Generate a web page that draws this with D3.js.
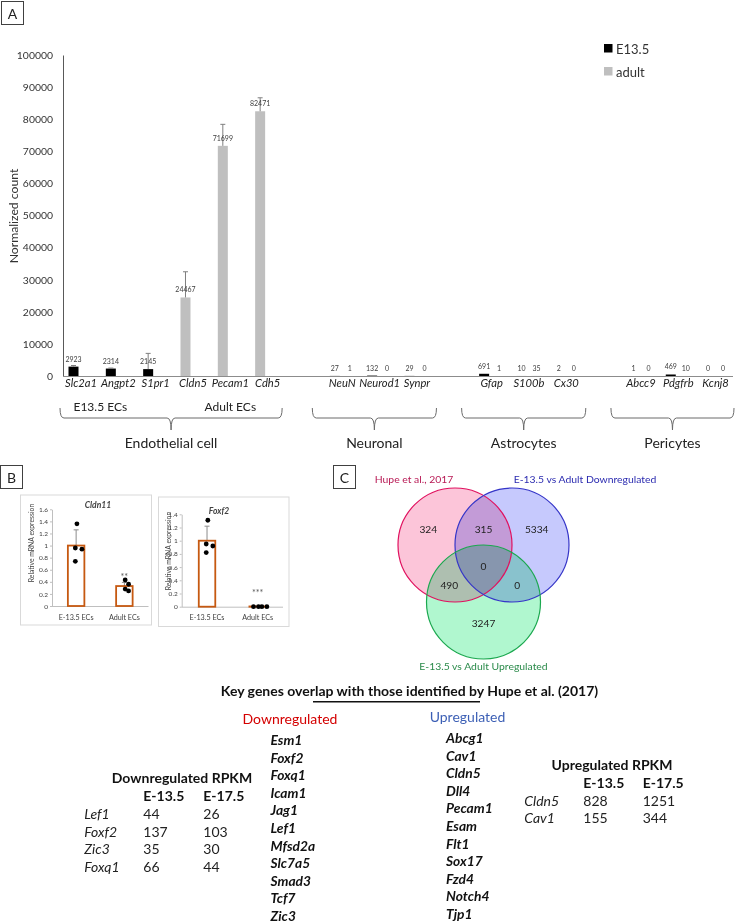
<!DOCTYPE html>
<html><head><meta charset="utf-8">
<script src="https://cdn.jsdelivr.net/npm/d3@7"></script>
<style>
body{margin:0;background:#fff}
svg{display:block}
text{font-family:Lato,"Open Sans",sans-serif}
</style>
</head><body>
<svg id="c" width="735" height="923"></svg>
<script>
// ---------------- DATA ----------------
// Panel A
const genes = ["Slc2a1","Angpt2","S1pr1","Cldn5","Pecam1","Cdh5","NeuN","Neurod1","Synpr","Gfap","S100b","Cx30","Abcc9","Pdgfrb","Kcnj8"];
const cellTypes = ["Endothelial cell","Endothelial cell","Endothelial cell","Endothelial cell","Endothelial cell","Endothelial cell",
  "Neuronal","Neuronal","Neuronal","Astrocytes","Astrocytes","Astrocytes","Pericytes","Pericytes","Pericytes"];
const ecSubTypes = ["E13.5 ECs","E13.5 ECs","E13.5 ECs","Adult ECs","Adult ECs","Adult ECs",null,null,null,null,null,null,null,null,null];
const seriesNames = ["E13.5","adult"];
const e135Counts = [2923,2314,2145,null,null,null,27,132,29,691,10,2,1,469,0];
const adultCounts = [null,null,null,24467,71699,82471,1,0,0,1,35,0,0,10,0];
const e135Err = [350,150,4900,null,null,null,0,0,0,0,0,0,0,0,0];
const adultErr = [null,null,null,8000,6700,4200,0,0,0,0,0,0,0,0,0];
const countTicks = [0,10000,20000,30000,40000,50000,60000,70000,80000,90000,100000];

// Panel B
const qpcrGroups = ["E-13.5 ECs","Adult ECs"];
const cldn11Means = [1.0, 0.33];
const cldn11Err = [0.26, 0.06];
const cldn11Points = [[1.36,0.96,0.94,0.74],[0.43,0.36,0.28,0.25]];
const cldn11Stars = [null,"**"];
const foxf2Means = [1.0, 0.004];
const foxf2Err = [0.22, 0.002];
const foxf2Points = [[1.31,0.95,0.92,0.82],[0,0,0,0]];
const foxf2Stars = [null,"***"];

// Panel C
const vennSets = ["Hupe et al., 2017","E-13.5 vs Adult Downregulated","E-13.5 vs Adult Upregulated"];
const vennCounts = {A:324, AB:315, B:5334, ABC:0, AC:490, BC:0, C:3247};

// Gene lists / tables
const overlapTitle = "Key genes overlap with those identified by Hupe et al. (2017)";
const downGenes = ["Esm1","Foxf2","Foxq1","Icam1","Jag1","Lef1","Mfsd2a","Slc7a5","Smad3","Tcf7","Zic3"];
const upGenes = ["Abcg1","Cav1","Cldn5","Dll4","Pecam1","Esam","Flt1","Sox17","Fzd4","Notch4","Tjp1"];
const rpkmStages = ["E-13.5","E-17.5"];
const downRpkmGenes = ["Lef1","Foxf2","Zic3","Foxq1"];
const downRpkmE135 = [44,137,35,66];
const downRpkmE175 = [26,103,30,44];
const upRpkmGenes = ["Cldn5","Cav1"];
const upRpkmE135 = [828,155];
const upRpkmE175 = [1251,344];

// ---------------- DRAW ----------------
const svg = d3.select("#c");

function boxLabel(x,y,t){
  svg.append("rect").attr("x",x+0.5).attr("y",y+0.5).attr("width",22).attr("height",23)
    .attr("fill","none").attr("stroke","#404040").attr("stroke-width",1);
  svg.append("text").attr("x",x+11.5).attr("y",y+12.5).attr("text-anchor","middle")
    .attr("dominant-baseline","central").attr("font-size",14).attr("fill","#222").text(t);
}
boxLabel(1,1,"A");
boxLabel(0,465,"B");
boxLabel(333,465,"C");

// ---- Panel A ----
const yA = d3.scaleLinear().domain([0,100000]).range([376,55]);
const domainA = [];
genes.forEach((g,i)=>{ if(i>0 && cellTypes[i]!==cellTypes[i-1]) domainA.push("_gap"+i); domainA.push(g); });
const xA = d3.scalePoint().domain(domainA).range([81,715.6]);

const gA = svg.append("g");
const yAxis = gA.append("g").attr("transform","translate(63,0)")
  .call(d3.axisLeft(yA).tickValues(countTicks).tickFormat(d3.format("d")).tickSize(0).tickPadding(10));
yAxis.select(".domain").attr("stroke","#595959");
yAxis.selectAll("text").attr("font-size",10.4).attr("fill","#333").attr("font-family","Lato");

gA.append("line").attr("x1",63).attr("x2",733).attr("y1",376.5).attr("y2",376.5).attr("stroke","#8c8c8c");

gA.append("text").attr("transform","translate(13,216) rotate(-90)").attr("text-anchor","middle")
  .attr("dominant-baseline","central").attr("font-size",12.2).attr("fill","#333").text("Normalized count");

const colors = ["#000000","#bfbfbf"];
const barData = genes.flatMap((g,i)=>{
  const vals = [{s:0,v:e135Counts[i],e:e135Err[i]},{s:1,v:adultCounts[i],e:adultErr[i]}].filter(d=>d.v!=null);
  return vals.map((d,k)=>({g, s:d.s, v:d.v, e:d.e, cx: xA(g) + (k===0?-7.5:7.5)}));
});
gA.selectAll("rect.bar").data(barData).join("rect").attr("class","bar")
  .attr("x",d=>d.cx-5).attr("width",10)
  .attr("y",d=>yA(d.v)).attr("height",d=>yA(0)-yA(d.v)).attr("fill",d=>colors[d.s]);
const errData = barData.filter(d=>d.e>0);
gA.selectAll("line.err").data(errData).join("line").attr("class","err")
  .attr("x1",d=>d.cx).attr("x2",d=>d.cx).attr("y1",d=>yA(d.v)).attr("y2",d=>yA(d.v+d.e))
  .attr("stroke","#7f7f7f").attr("stroke-width",1);
gA.selectAll("line.cap").data(errData).join("line").attr("class","cap")
  .attr("x1",d=>d.cx-2.5).attr("x2",d=>d.cx+2.5).attr("y1",d=>yA(d.v+d.e)).attr("y2",d=>yA(d.v+d.e))
  .attr("stroke","#7f7f7f").attr("stroke-width",1);
gA.selectAll("text.dl").data(barData).join("text").attr("class","dl")
  .attr("x",d=>d.cx).attr("y",d=>yA(d.v)-5).attr("text-anchor","middle")
  .attr("font-size",7).attr("fill","#404040").text(d=>d.v);

// gene labels
gA.selectAll("text.gl").data(genes).join("text").attr("class","gl")
  .attr("x",d=>xA(d)).attr("y",382).attr("dominant-baseline","central").attr("text-anchor","middle")
  .attr("font-size",11.2).attr("font-style","italic").attr("fill","#222").text(d=>d);

// EC subtype labels
const subs = Array.from(new Set(ecSubTypes.filter(d=>d)));
subs.forEach(s=>{
  const idx = genes.filter((g,i)=>ecSubTypes[i]===s);
  const mid = xA(idx[1]) + (s==="E13.5 ECs" ? -18 : 0);
  gA.append("text").attr("x",mid).attr("y",406).attr("dominant-baseline","central").attr("text-anchor","middle")
    .attr("font-size",12).attr("fill","#222").text(s);
});

// braces
function brace(x0,x1){
  const xm=(x0+x1)/2, y0=408, y1=418, y2=430, r=4;
  const p=`M${x0},${y0} Q${x0},${y1} ${x0+r},${y1} L${xm-r},${y1} Q${xm},${y1} ${xm},${y2} Q${xm},${y1} ${xm+r},${y1} L${x1-r},${y1} Q${x1},${y1} ${x1},${y0}`;
  gA.append("path").attr("d",p).attr("fill","none").attr("stroke","#6b6b6b").attr("stroke-width",1);
  return xm;
}
const cellGroups = Array.from(new Set(cellTypes));
cellGroups.forEach((c,ci)=>{
  const gs = genes.filter((g,i)=>cellTypes[i]===c);
  const x0 = xA(gs[0]) - (ci===0 ? 21 : 30);
  const x1 = Math.min(xA(gs[gs.length-1]) + (ci===0 ? 14.5 : 19.5), 734);
  const xm = brace(x0,x1);
  gA.append("text").attr("x",xm).attr("y",442).attr("dominant-baseline","central").attr("text-anchor","middle")
    .attr("font-size",14).attr("fill","#222").text(c);
});

// legend
seriesNames.forEach((s,i)=>{
  gA.append("rect").attr("x",604).attr("y",44+i*23).attr("width",8.5).attr("height",8.5).attr("fill",colors[i]);
  gA.append("text").attr("x",616).attr("y",48.5+i*23).attr("dominant-baseline","central")
    .attr("font-size",13).attr("fill","#333").text(s);
});

// ---- Panel B ----
function qpcrChart(o){
  const g = svg.append("g");
  g.append("rect").attr("x",o.bx).attr("y",o.by).attr("width",o.bw).attr("height",o.bh)
    .attr("fill","#fff").attr("stroke","#d9d9d9").attr("stroke-width",1);
  const y = d3.scaleLinear().domain([0,o.max]).range([o.y0,o.y1]);
  const x = d3.scalePoint().domain(qpcrGroups).range([o.x0,o.x1]).padding(0.5);
  const ax = g.append("g").attr("transform",`translate(${o.x0},0)`)
    .call(d3.axisLeft(y).tickValues(d3.range(0,o.max+1e-9,0.2)).tickFormat(d3.format("~g")).tickSize(2).tickSizeOuter(0).tickPadding(2));
  ax.select(".domain").attr("stroke","#bfbfbf");
  ax.selectAll(".tick line").attr("stroke","#bfbfbf");
  ax.selectAll("text").attr("font-size",6.5).attr("fill","#404040").attr("font-family","Lato");
  g.append("line").attr("x1",o.x0).attr("x2",o.x1).attr("y1",o.y0+0.5).attr("y2",o.y0+0.5).attr("stroke","#bfbfbf");
  g.append("text").attr("transform",`translate(${o.tx},${o.ty}) rotate(-90)`).attr("text-anchor","middle")
    .attr("dominant-baseline","central").attr("font-size",6.8).attr("fill","#404040").text("Relative mRNA expression");
  g.append("text").attr("x",o.titleX).attr("y",o.titleY).attr("text-anchor","middle").attr("dominant-baseline","central")
    .attr("font-size",8.5).attr("font-weight","bold").attr("font-style","italic").attr("fill","#404040").text(o.title);
  g.selectAll("text.xl").data(qpcrGroups).join("text").attr("class","xl")
    .attr("x",d=>x(d)).attr("y",o.y0+11).attr("text-anchor","middle").attr("dominant-baseline","central")
    .attr("font-size",7.2).attr("fill","#404040").text(d=>d);
  const bw=16.5;
  qpcrGroups.forEach((c,i)=>{
    const cx=x(c), m=o.means[i], e=o.err[i];
    g.append("line").attr("x1",cx).attr("x2",cx).attr("y1",y(m)).attr("y2",y(m+e)).attr("stroke","#8c8c8c");
    g.append("line").attr("x1",cx-2.5).attr("x2",cx+2.5).attr("y1",y(m+e)).attr("y2",y(m+e)).attr("stroke","#8c8c8c");
  });
  g.selectAll("rect.qb").data(qpcrGroups).join("rect").attr("class","qb")
    .attr("x",d=>x(d)-bw/2).attr("width",bw).attr("y",(d,i)=>y(o.means[i])).attr("height",(d,i)=>y(0)-y(o.means[i]))
    .attr("fill","none").attr("stroke","#c65911").attr("stroke-width",1.8);
  qpcrGroups.forEach((c,i)=>{
    const placed=[];
    o.points[i].forEach((v,j)=>{
      const py=y(v); let dx=0;
      const clash=(dx)=>placed.some(p=>Math.hypot(p[0]-dx,p[1]-py)<4.6);
      const cand=[0];
      for(let s=1;s<8;s++){cand.push(s*5,-s*5);}
      for(const c2 of cand){ if(!clash(c2)){dx=c2;break;} }
      placed.push([dx,py]);
      g.append("circle").attr("cx",x(c)+dx+(j%2? -0.8:0.8)).attr("cy",py).attr("r",2.4).attr("fill","#000");
    });
    if(o.stars[i]){
      g.append("text").attr("x",x(c)).attr("y",y(o.starLevel)).attr("text-anchor","middle").attr("dominant-baseline","central")
        .attr("font-size",9).attr("fill","#595959").text(o.stars[i]);
    }
  });
}
qpcrChart({bx:20.5,by:495,bw:131,bh:130,max:1.6,y0:606,y1:509.3,x0:52,x1:148.5,
  tx:31,ty:543,titleX:98,titleY:505,title:"Cldn11",means:cldn11Means,err:cldn11Err,points:cldn11Points,stars:cldn11Stars,starLevel:0.48});
qpcrChart({bx:158.5,by:497,bw:130.5,bh:129.5,max:1.4,y0:606.7,y1:514.3,x0:181.7,x1:283,
  tx:168,ty:551,titleX:219,titleY:511,title:"Foxf2",means:foxf2Means,err:foxf2Err,points:foxf2Points,stars:foxf2Stars,starLevel:0.21});

// ---- Panel C: Venn ----
const gV = svg.append("g");
const R = 57;
const circ = [
  {cx:455, cy:545, fill:"#fcc5d9", stroke:"#e0115f"},
  {cx:512, cy:545, fill:"#c6c9fd", stroke:"#3535c8"},
  {cx:483.5, cy:602, fill:"#b0f7cf", stroke:"#1ba84f"}
];
gV.selectAll("circle.f").data(circ).join("circle").attr("class","f")
  .attr("cx",d=>d.cx).attr("cy",d=>d.cy).attr("r",R).attr("fill",d=>d.fill).style("mix-blend-mode","multiply");
gV.selectAll("circle.s").data(circ).join("circle").attr("class","s")
  .attr("cx",d=>d.cx).attr("cy",d=>d.cy).attr("r",R).attr("fill","none").attr("stroke",d=>d.stroke).attr("stroke-width",1.2);
const [cA,cB,cC] = circ;
const vLabels = [
  {k:"A", x:cA.cx-26.7, y:cA.cy-16},
  {k:"AB", x:(cA.cx+cB.cx)/2, y:cA.cy-16},
  {k:"B", x:cB.cx+24.7, y:cB.cy-16},
  {k:"ABC", x:cC.cx, y:566},
  {k:"AC", x:449.3, y:585.3},
  {k:"BC", x:517.3, y:585.3},
  {k:"C", x:cC.cx, y:cC.cy+21}
];
gV.selectAll("text.vn").data(vLabels).join("text").attr("class","vn")
  .attr("x",d=>d.x).attr("y",d=>d.y).attr("text-anchor","middle").attr("dominant-baseline","central")
  .attr("font-family","Liberation Sans, Arial").attr("font-size",10.2).attr("fill","#222").text(d=>vennCounts[d.k]);
const vTitles = [
  {t:vennSets[0], x:414, y:479, c:"#b81a55"},
  {t:vennSets[1], x:585, y:479, c:"#2b2bb0"},
  {t:vennSets[2], x:483.5, y:666, c:"#2a8a4a"}
];
gV.selectAll("text.vt").data(vTitles).join("text").attr("class","vt")
  .attr("x",d=>d.x).attr("y",d=>d.y).attr("text-anchor","middle").attr("dominant-baseline","central")
  .attr("font-family","Liberation Sans, Arial").attr("font-size",10.4).attr("fill",d=>d.c).text(d=>d.t);

// ---- Gene lists ----
const gL = svg.append("g");
gL.append("text").attr("x",409.5).attr("y",690.5).attr("text-anchor","middle").attr("dominant-baseline","central")
  .attr("font-size",14).attr("font-weight","bold").attr("fill","#111").text(overlapTitle);
gL.append("line").attr("x1",313).attr("x2",480).attr("y1",701.7).attr("y2",701.7).attr("stroke","#111").attr("stroke-width",1.6);
gL.append("text").attr("x",290).attr("y",718).attr("text-anchor","middle").attr("dominant-baseline","central")
  .attr("font-size",14).attr("fill","#d40000").text("Downregulated");
gL.append("text").attr("x",467.5).attr("y",716).attr("text-anchor","middle").attr("dominant-baseline","central")
  .attr("font-size",14).attr("fill","#3c5fb5").text("Upregulated");
const lineH = 17.6;
gL.selectAll("text.dg").data(downGenes).join("text").attr("class","dg")
  .attr("x",270.5).attr("y",(d,i)=>739.5+i*lineH).attr("dominant-baseline","central")
  .attr("font-size",13.8).attr("font-weight","bold").attr("font-style","italic").attr("fill","#111").text(d=>d);
gL.selectAll("text.ug").data(upGenes).join("text").attr("class","ug")
  .attr("x",446).attr("y",(d,i)=>737.5+i*lineH).attr("dominant-baseline","central")
  .attr("font-size",13.8).attr("font-weight","bold").attr("font-style","italic").attr("fill","#111").text(d=>d);

// ---- RPKM tables ----
function rpkmTable(o){
  const g = svg.append("g");
  g.append("text").attr("x",o.titleX).attr("y",o.y).attr("text-anchor","middle").attr("dominant-baseline","central")
    .attr("font-size",14).attr("font-weight","bold").attr("fill","#111").text(o.title);
  rpkmStages.forEach((s,i)=>{
    g.append("text").attr("x",o.cols[i]).attr("y",o.y+18).attr("dominant-baseline","central")
      .attr("font-size",14).attr("font-weight","bold").attr("fill","#111").text(s);
  });
  o.genes.forEach((gn,r)=>{
    const yy = o.y+18+(r+1)*17.75;
    g.append("text").attr("x",o.nameX).attr("y",yy).attr("dominant-baseline","central")
      .attr("font-size",14).attr("font-style","italic").attr("fill","#222").text(gn);
    [o.v1[r],o.v2[r]].forEach((v,i)=>{
      g.append("text").attr("x",o.cols[i]).attr("y",yy).attr("dominant-baseline","central")
        .attr("font-size",14).attr("fill","#222").text(v);
    });
  });
}
rpkmTable({title:"Downregulated RPKM",titleX:182,y:777.7,cols:[143.3,203.3],nameX:84.3,genes:downRpkmGenes,v1:downRpkmE135,v2:downRpkmE175});
rpkmTable({title:"Upregulated RPKM",titleX:612,y:764.3,cols:[583.3,642.7],nameX:524.3,genes:upRpkmGenes,v1:upRpkmE135,v2:upRpkmE175});
</script>
</body></html>
